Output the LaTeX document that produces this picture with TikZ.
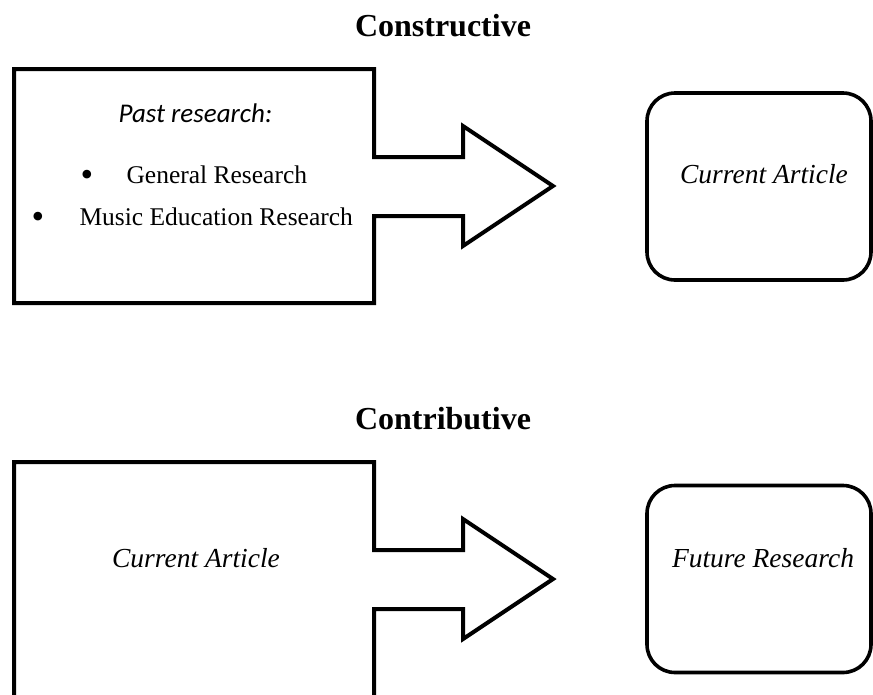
\documentclass[tikz,border=0pt]{standalone}
\usepackage{fontspec}
\setmainfont{Liberation Serif}
\newfontfamily\calib{Carlito}
\begin{document}
\begin{tikzpicture}[x=1pt,y=-1pt,
  outline/.style={draw=black,line width=4pt,line join=miter},
  roundbox/.style={draw=black,line width=3.6pt,rounded corners=28pt,minimum width=224pt,minimum height=187pt,inner sep=0pt},
  titletext/.style={font=\fontsize{32}{38}\selectfont\bfseries,anchor=base},
  italtext/.style={font=\fontsize{27.5}{33}\selectfont\itshape,anchor=base},
  pasttext/.style={font=\calib\fontsize{27}{32}\selectfont\itshape,anchor=base west},
  bodytext/.style={font=\fontsize{25.5}{30}\selectfont,anchor=base west},
  bulletmark/.style={font=\fontsize{36}{40}\selectfont,anchor=base},
]
\useasboundingbox (0,0) rectangle (873,694);

% ---------- Constructive ----------
\node[titletext] (t1) at (443,36) {Constructive};
\coordinate (a1) at (14,69);
\draw[outline] (a1) -- (374,69) -- (374,157) -- (463,157) -- (463,126) -- (553,186)
  -- (463,246) -- (463,216) -- (374,216) -- (374,303) -- (14,303) -- cycle;
\node[pasttext] (past) at (115,122) {Past research:};
\node[bulletmark] (b1) at (87,186) {\textbullet};
\node[bodytext] (gen) at (123,183) {General Research};
\node[bulletmark] (b2) at (38,228) {\textbullet};
\node[bodytext] (mus) at (76,225) {Music Education Research};
\node[roundbox] (cur1) at (759,186.5) {};
\node[italtext] (cur1t) at (764,183) {Current Article};

% ---------- Contributive ----------
\node[titletext] (t2) at (443,429) {Contributive};
\coordinate (a2) at (14,462);
\draw[outline] (a2) -- (374,462) -- (374,550) -- (463,550) -- (463,519) -- (553,579)
  -- (463,639) -- (463,609) -- (374,609) -- (374,697) -- (14,697) -- cycle;
\node[italtext] (cur2t) at (196,567) {Current Article};
\node[roundbox] (fut) at (759,579) {};
\node[italtext] (futt) at (763,567) {Future Research};
\end{tikzpicture}
\end{document}
